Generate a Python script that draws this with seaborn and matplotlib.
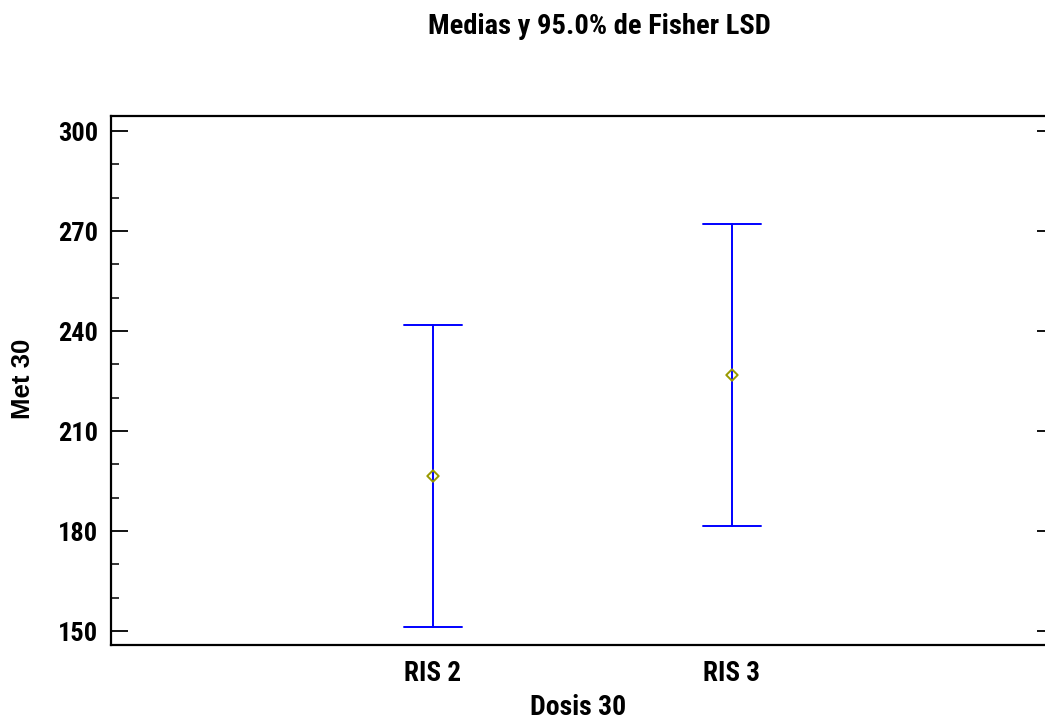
import numpy as np
import pandas as pd
import matplotlib
matplotlib.use("Agg")
import matplotlib.pyplot as plt
from matplotlib.ticker import MultipleLocator
import seaborn as sns

# Group means and 95% Fisher LSD interval limits
groups = ["RIS 2", "RIS 3"]
means = [196.5, 226.8]
lower = [151.3, 181.6]
upper = [241.7, 272.0]

sns.set_theme(style="white")
plt.rcParams["font.family"] = ["Roboto Condensed", "DejaVu Sans"]
plt.rcParams["font.weight"] = "bold"
plt.rcParams["text.color"] = "black"
plt.rcParams["axes.labelcolor"] = "black"

# Long table: each group holds its lower limit, mean and upper limit;
# the median gives the mean and the full range gives the interval.
df = pd.DataFrame({
    "Dosis 30": np.repeat(groups, 3),
    "Met 30": np.ravel(np.column_stack([lower, means, upper])),
})
centre = pd.DataFrame({"Dosis 30": groups, "Met 30": means})

fig = plt.figure(figsize=(10.45, 7.21), dpi=100)
ax = fig.add_axes([0.1062, 0.1054, 0.9024, 0.7341])

sns.pointplot(
    data=df, x="Dosis 30", y="Met 30", order=groups,
    estimator="median", errorbar=("pi", 100),
    color="#0000ff", linestyle="none", marker="",
    capsize=0.194, err_kws={"linewidth": 1.4}, ax=ax,
)
sns.scatterplot(
    data=centre, x="Dosis 30", y="Met 30", marker="D", s=34,
    facecolor="none", edgecolor="#999900", linewidth=1.4, zorder=5, ax=ax,
)

ax.set_xlim(-1.077, 2.077)
ax.set_ylim(145.8, 304.6)
ax.yaxis.set_major_locator(MultipleLocator(30))
ax.yaxis.set_minor_locator(MultipleLocator(10))

for side in ["left", "right", "top", "bottom"]:
    ax.spines[side].set_visible(True)
    ax.spines[side].set_color("black")
    ax.spines[side].set_linewidth(1.6)

ax.tick_params(axis="y", which="major", direction="in", length=12.5, width=1.3,
               left=True, right=True, labelsize=19, pad=9.5, colors="black")
ax.tick_params(axis="y", which="minor", direction="in", length=6, width=1.3,
               left=True, right=False)
ax.tick_params(axis="x", which="both", length=0, labelsize=19.5, pad=11,
               colors="black")
for lab in ax.get_xticklabels() + ax.get_yticklabels():
    lab.set_fontweight("bold")

ax.set_xlabel("")
ax.set_ylabel("")
fig.text(0.553, 0.019, "Dosis 30", ha="center", va="center",
         fontsize=20, fontweight="bold")
fig.text(0.022, 0.474, "Met 30", rotation=90, ha="center", va="center",
         fontsize=18.5, fontweight="bold", family=["Liberation Sans", "DejaVu Sans"])
fig.text(0.574, 0.963, "Medias y 95.0% de Fisher LSD", ha="center", va="center",
         fontsize=20.5, fontweight="bold")

fig.savefig("out.png", dpi=100, facecolor="white")
